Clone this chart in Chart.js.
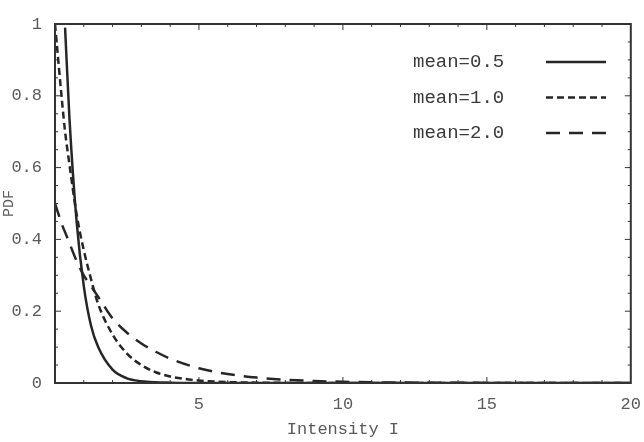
<!DOCTYPE html>
<html>
<head>
<meta charset="utf-8">
<script src="https://cdn.jsdelivr.net/npm/chart.js@4"></script>
<style>
  html, body { margin: 0; padding: 0; background: #fff; }
  #wrap { width: 644px; height: 442px; }
</style>
</head>
<body>
<div id="wrap"><canvas id="pdf-chart" width="644" height="442"></canvas></div>
<script>
// values
const intensity = [0, 0.25, 0.35, 0.5, 0.75, 1, 1.25, 1.5, 2, 2.5, 3, 3.5, 4, 5, 6, 7, 8, 9, 10, 12, 14, 16, 18, 20];
const pdfMean05 = [null, null, 0.99, 0.74, 0.45, 0.27, 0.16, 0.10, 0.037, 0.013, 0.005, 0.002, 0.001, 0, 0, 0, 0, 0, 0, 0, 0, 0, 0, 0];
const pdfMean10 = [1.0, 0.78, 0.70, 0.61, 0.47, 0.37, 0.29, 0.22, 0.135, 0.082, 0.05, 0.03, 0.018, 0.007, 0.0025, 0.001, 0.0003, 0, 0, 0, 0, 0, 0, 0];
const pdfMean20 = [0.5, 0.44, 0.42, 0.39, 0.34, 0.30, 0.27, 0.24, 0.18, 0.14, 0.11, 0.087, 0.068, 0.041, 0.025, 0.015, 0.009, 0.0056, 0.0034, 0.0012, 0.0005, 0.0002, 0.0001, 0];
const seriesLabels = ["mean=0.5", "mean=1.0", "mean=2.0"];
const xTicks = [5, 10, 15, 20];
const yTicks = [0, 0.2, 0.4, 0.6, 0.8, 1];

const INK = "#262626";
const LABEL = "#5a5a5a";
const MONO = "'Liberation Mono', 'DejaVu Sans Mono', monospace";

const pts = (ys) => intensity.map((x, i) => ({ x, y: ys[i] }));

// frame + inward ticks on all four sides, like the original
const frameTicks = {
  id: "frameTicks",
  afterDraw(chart) {
    const { ctx, chartArea: a, scales } = chart;
    const xs = scales.x, ys = scales.y;
    ctx.save();
    ctx.strokeStyle = "#333";
    ctx.lineWidth = 2;
    ctx.strokeRect(a.left, a.top, a.right - a.left, a.bottom - a.top);
    ctx.lineWidth = 1;
    for (let v = 1; v < 20; v++) {
      const px = xs.getPixelForValue(v);
      const len = v % 5 === 0 ? 6 : 3;
      ctx.beginPath();
      ctx.moveTo(px, a.bottom); ctx.lineTo(px, a.bottom - len);
      ctx.moveTo(px, a.top); ctx.lineTo(px, a.top + len);
      ctx.stroke();
    }
    for (let k = 1; k < 20; k++) {
      const py = ys.getPixelForValue(k * 0.05);
      const len = k % 4 === 0 ? 6 : 3;
      ctx.beginPath();
      ctx.moveTo(a.left, py); ctx.lineTo(a.left + len, py);
      ctx.moveTo(a.right, py); ctx.lineTo(a.right - len, py);
      ctx.stroke();
    }
    ctx.restore();
  },
};

// legend: label first, line sample after it
const sampleLegend = {
  id: "sampleLegend",
  afterDraw(chart) {
    const { ctx, chartArea: a } = chart;
    ctx.save();
    ctx.font = "19px " + MONO;
    ctx.textBaseline = "middle";
    chart.data.datasets.forEach((ds, i) => {
      const y = a.top + 38 + i * 35.5;
      ctx.fillStyle = "#3a3a3a";
      ctx.textAlign = "left";
      ctx.fillText(ds.label, 413, y);
      ctx.strokeStyle = ds.borderColor;
      ctx.lineWidth = ds.borderWidth;
      ctx.setLineDash(ds.borderDash || []);
      ctx.beginPath();
      ctx.moveTo(546, y);
      ctx.lineTo(606, y);
      ctx.stroke();
    });
    ctx.restore();
  },
};

const ctx = document.getElementById("pdf-chart").getContext("2d");
new Chart(ctx, {
  type: "line",
  data: {
    datasets: [
      { label: seriesLabels[0], data: pts(pdfMean05), borderColor: INK, borderWidth: 2.5, borderDash: [] },
      { label: seriesLabels[1], data: pts(pdfMean10), borderColor: INK, borderWidth: 2.5, borderDash: [7, 4] },
      { label: seriesLabels[2], data: pts(pdfMean20), borderColor: INK, borderWidth: 2.5, borderDash: [14, 9] },
    ],
  },
  options: {
    responsive: false,
    animation: false,
    events: [],
    elements: { point: { radius: 0 }, line: { tension: 0.3, cubicInterpolationMode: "monotone" } },
    layout: { autoPadding: false, padding: { top: 24, right: 11, bottom: 0, left: 0 } },
    plugins: { legend: { display: false }, tooltip: { enabled: false } },
    scales: {
      x: {
        type: "linear",
        min: 0,
        max: 20,
        grid: { display: false },
        border: { display: false },
        afterFit: (s) => { s.height = 59; },
        afterBuildTicks: (s) => { s.ticks = xTicks.map((v) => ({ value: v })); },
        ticks: { color: LABEL, font: { family: MONO, size: 17 }, padding: 3, maxRotation: 0 },
        title: { display: true, text: "Intensity I", color: LABEL, font: { family: MONO, size: 17 }, padding: { top: 0, bottom: 2 } },
      },
      y: {
        min: 0,
        max: 1,
        grid: { display: false },
        border: { display: false },
        afterFit: (s) => { s.width = 55; },
        afterBuildTicks: (s) => { s.ticks = yTicks.map((v) => ({ value: v })); },
        ticks: { color: LABEL, font: { family: MONO, size: 17 }, padding: 5, callback: (v) => String(v) },
        title: { display: true, text: "PDF", color: LABEL, font: { family: MONO, size: 15 }, padding: { top: 0, bottom: 0 } },
      },
    },
  },
  plugins: [frameTicks, sampleLegend],
});
</script>
</body>
</html>
